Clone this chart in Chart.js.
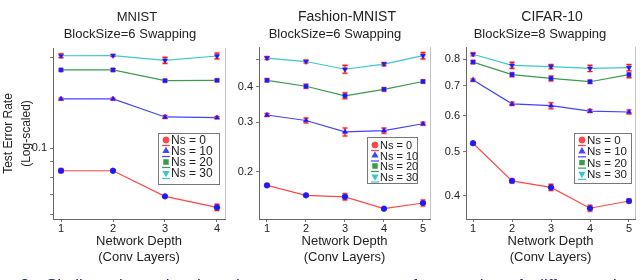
<!DOCTYPE html>
<html>
<head>
<meta charset="utf-8">
<script src="https://cdn.jsdelivr.net/npm/chart.js@4.4.1/dist/chart.umd.min.js"></script>
<style>
  html, body { margin: 0; padding: 0; background: #fff; width: 640px; height: 280px; overflow: hidden; }
  canvas { position: absolute; left: 0; top: 0; }
  #caption { position: absolute; left: 20px; top: 276px; white-space: nowrap;
    font: 17px "Liberation Sans", Arial, sans-serif; color: #1c1c82; word-spacing: 7px; }
</style>
</head>
<body>
<canvas id="mnistChart" width="640" height="280"></canvas>
<canvas id="fashionChart" width="640" height="280"></canvas>
<canvas id="cifarChart" width="640" height="280"></canvas>
<div id="caption">2: Similar plots showing the test error rates of networks of different depth, the total</div>
<script>
// --- DONNEES ---
const seriesLabels = ['Ns = 0', 'Ns = 10', 'Ns = 20', 'Ns = 30'];

const mnistDepth = [1, 2, 3, 4];
const mnistValues = [
  [0.084, 0.084, 0.069, 0.0634],
  [0.1457, 0.1457, 0.1269, 0.1262],
  [0.182, 0.1821, 0.1676, 0.1681],
  [0.203, 0.2033, 0.196, 0.2026]
];
const mnistErrors = [
  [0.0013, 0.0006, 0.0005, 0.0015],
  [0.0011, 0.0011, 0.0015, 0.001],
  [0.0014, 0.002, 0.0013, 0.0013],
  [0.003, 0.0016, 0.0045, 0.0045]
];
const mnistTickMarks = [0.06, 0.07, 0.08, 0.09, 0.1, 0.2];
const mnistTickLabels = [0.1];

const fashionDepth = [1, 2, 3, 4, 5];
const fashionValues = [
  [0.179, 0.165, 0.163, 0.148, 0.155],
  [0.318, 0.304, 0.277, 0.280, 0.296],
  [0.422, 0.402, 0.372, 0.392, 0.418],
  [0.506, 0.492, 0.462, 0.482, 0.516]
];
const fashionErrors = [
  [0.0022, 0.0014, 0.004, 0.0012, 0.0038],
  [0.004, 0.006, 0.009, 0.0057, 0.0036],
  [0.005, 0.0066, 0.009, 0.005, 0.005],
  [0.006, 0.006, 0.015, 0.006, 0.013]
];
const fashionTickMarks = [0.2, 0.3, 0.4, 0.5];
const fashionTickLabels = [0.2, 0.3, 0.4];

const cifarDepth = [1, 2, 3, 4, 5];
const cifarValues = [
  [0.522, 0.431, 0.417, 0.375, 0.389],
  [0.720, 0.638, 0.632, 0.615, 0.612],
  [0.789, 0.740, 0.726, 0.714, 0.740],
  [0.821, 0.776, 0.771, 0.764, 0.767]
];
const cifarErrors = [
  [0.0027, 0.0044, 0.0064, 0.0057, 0.004],
  [0.0037, 0.005, 0.0097, 0.0047, 0.0062],
  [0.006, 0.0075, 0.009, 0.0055, 0.011],
  [0.006, 0.012, 0.008, 0.012, 0.012]
];
const cifarTickMarks = [0.4, 0.5, 0.6, 0.7, 0.8];
const cifarTickLabels = [0.4, 0.5, 0.6, 0.7, 0.8];

// --- STYLES ---
const FONT = '"Liberation Sans", Arial, sans-serif';
const TEXT = '#222';
const lineColors = ['#ff4646', '#4242ff', '#3a9a4e', '#3cc8c8'];
const pointStyles = ['circle', 'triangle', 'rect', 'triangle'];
const markerBlue = '#1a1aff';

function buildDatasets(depths, values, errors) {
  return values.map((row, i) => ({
    label: seriesLabels[i],
    data: row.map((v, j) => ({ x: depths[j], y: v })),
    errors: errors[i],
    borderColor: lineColors[i],
    borderWidth: 1.2,
    pointStyle: pointStyles[i],
    rotation: i === 3 ? 180 : 0,
    pointRadius: 2.7,
    pointBackgroundColor: markerBlue,
    pointBorderColor: markerBlue,
    pointBorderWidth: 0.5,
    tension: 0,
    clip: false
  }));
}

// barres d'erreur rouges
const errorBarPlugin = {
  id: 'errorBars',
  afterDatasetsDraw(chart) {
    const ctx = chart.ctx, ys = chart.scales.y;
    ctx.save();
    chart.data.datasets.forEach((ds, i) => {
      chart.getDatasetMeta(i).data.forEach((pt, j) => {
        const v = ds.data[j].y, e = ds.errors[j];
        const top = ys.getPixelForValue(v + e), bot = ys.getPixelForValue(v - e);
        [['#ffb4b4', 2.6], ['#f01c1c', 1.1]].forEach(([c, w]) => {
          ctx.strokeStyle = c; ctx.lineWidth = w;
          ctx.beginPath();
          ctx.moveTo(pt.x, top); ctx.lineTo(pt.x, bot);
          ctx.moveTo(pt.x - 2.5, top); ctx.lineTo(pt.x + 2.5, top);
          ctx.moveTo(pt.x - 2.5, bot); ctx.lineTo(pt.x + 2.5, bot);
          ctx.stroke();
        });
        // remet le marqueur au-dessus
        ctx.fillStyle = markerBlue; ctx.strokeStyle = markerBlue; ctx.lineWidth = 0.5;
        Chart.helpers.drawPoint(ctx, {
          pointStyle: ds.pointStyle, rotation: ds.rotation, radius: 2.7, borderWidth: 0.5
        }, pt.x, pt.y);
      });
    });
    ctx.restore();
  }
};

// titres, cadre droit et légende
const panelPlugin = {
  id: 'panelDecor',
  afterDraw(chart, args, opts) {
    const ctx = chart.ctx, a = chart.chartArea;
    ctx.save();
    ctx.strokeStyle = '#c4c4c4'; ctx.lineWidth = 1;
    ctx.beginPath(); ctx.moveTo(a.right + 0.5, a.top); ctx.lineTo(a.right + 0.5, a.bottom); ctx.stroke();

    ctx.fillStyle = TEXT; ctx.textAlign = 'center'; ctx.textBaseline = 'middle';
    ctx.font = opts.titleSize + 'px ' + FONT;
    ctx.fillText(opts.title, opts.titleX, 17.5);
    ctx.font = '13px ' + FONT;
    ctx.fillText(opts.subtitle, opts.subX, 34);

    const b = opts.legend;
    ctx.fillStyle = '#fff'; ctx.strokeStyle = '#777';
    ctx.fillRect(b.x, b.y, b.w, b.h);
    ctx.strokeRect(b.x + 0.5, b.y + 0.5, b.w, b.h);
    ctx.font = b.size + 'px ' + FONT; ctx.textAlign = 'left';
    const markers = ['circle', 'triangle', 'rect', 'triangle'];
    seriesLabels.forEach((lab, i) => {
      const ry = b.row0 + i * b.step, mx = b.x + 8;
      ctx.fillStyle = lineColors[i]; ctx.strokeStyle = lineColors[i];
      Chart.helpers.drawPoint(ctx, { pointStyle: markers[i], rotation: i === 3 ? 180 : 0, radius: 3, borderWidth: 0.5 }, mx, ry - 1);
      ctx.lineWidth = 1.2;
      ctx.beginPath(); ctx.moveTo(mx - 4, ry + 4.5); ctx.lineTo(mx + 4, ry + 4.5); ctx.stroke();
      ctx.fillStyle = TEXT;
      ctx.fillText(lab, b.x + 13, ry);
    });
    ctx.restore();
  }
};

function makeChart(id, cfg) {
  return new Chart(document.getElementById(id), {
    type: 'line',
    data: { datasets: buildDatasets(cfg.depths, cfg.values, cfg.errors) },
    plugins: [errorBarPlugin, panelPlugin],
    options: {
      responsive: false,
      animation: false,
      devicePixelRatio: 1,
      layout: { padding: cfg.padding },
      plugins: {
        legend: { display: false },
        tooltip: { enabled: false },
        panelDecor: cfg.decor
      },
      scales: {
        x: {
          type: 'linear', min: cfg.xMin, max: cfg.xMax,
          afterBuildTicks: s => { s.ticks = cfg.depths.map(v => ({ value: v })); },
          afterFit: s => { s.height = 46; },
          grid: { drawOnChartArea: false, tickLength: 3, color: '#777' },
          border: { color: '#666' },
          ticks: { color: TEXT, padding: 0, font: { family: FONT, size: 11 }, maxRotation: 0 },
          title: {
            display: true, text: ['Network Depth', '(Conv Layers)'], color: TEXT,
            font: { family: FONT, size: 13, lineHeight: 1.23 }, padding: 0
          }
        },
        y: {
          type: 'logarithmic', min: cfg.yMin, max: cfg.yMax,
          afterBuildTicks: s => { s.ticks = cfg.marks.map(v => ({ value: v })); },
          afterFit: s => { s.width = cfg.yWidth; },
          grid: { drawOnChartArea: false, tickLength: 3, color: '#777' },
          border: { color: '#666' },
          ticks: {
            color: TEXT, padding: 3, font: { family: FONT, size: 11 },
            callback: v => cfg.labels.includes(v) ? String(v) : ''
          },
          title: cfg.yTitle ? {
            display: true, text: ['Test Error Rate', '(Log-scaled)'], color: TEXT,
            font: { family: FONT, size: 12, lineHeight: 1.5 }, padding: 0
          } : { display: false }
        }
      }
    }
  });
}

makeChart('mnistChart', {
  depths: mnistDepth, values: mnistValues, errors: mnistErrors,
  marks: mnistTickMarks, labels: mnistTickLabels,
  xMin: 0.846, xMax: 4.154, yMin: 0.058, yMax: 0.2154,
  yWidth: 53, yTitle: true,
  padding: { left: 0, right: 415, top: 48, bottom: 15 },
  decor: { title: 'MNIST', titleSize: 13, titleX: 137, subtitle: 'BlockSize=6 Swapping', subX: 130,
    legend: { x: 158, y: 133, w: 61, h: 51, row0: 141, step: 11, size: 12 } }
});

makeChart('fashionChart', {
  depths: fashionDepth, values: fashionValues, errors: fashionErrors,
  marks: fashionTickMarks, labels: fashionTickLabels,
  xMin: 0.795, xMax: 5.18, yMin: 0.136, yMax: 0.554,
  yWidth: 30, yTitle: false,
  padding: { left: 229, right: 210, top: 47, bottom: 15 },
  decor: { title: 'Fashion-MNIST', titleSize: 14, titleX: 347, subtitle: 'BlockSize=6 Swapping', subX: 335,
    legend: { x: 367, y: 137, w: 50, h: 46, row0: 146, step: 10.5, size: 11 } }
});

makeChart('cifarChart', {
  depths: cifarDepth, values: cifarValues, errors: cifarErrors,
  marks: cifarTickMarks, labels: cifarTickLabels,
  xMin: 0.82, xMax: 5.154, yMin: 0.355, yMax: 0.852,
  yWidth: 30, yTitle: false,
  padding: { left: 436, right: 5, top: 47, bottom: 15 },
  decor: { title: 'CIFAR-10', titleSize: 14, titleX: 552, subtitle: 'BlockSize=8 Swapping', subX: 540,
    legend: { x: 574, y: 133, w: 57, h: 50, row0: 141, step: 11.3, size: 11.5 } }
});
</script>
</body>
</html>
